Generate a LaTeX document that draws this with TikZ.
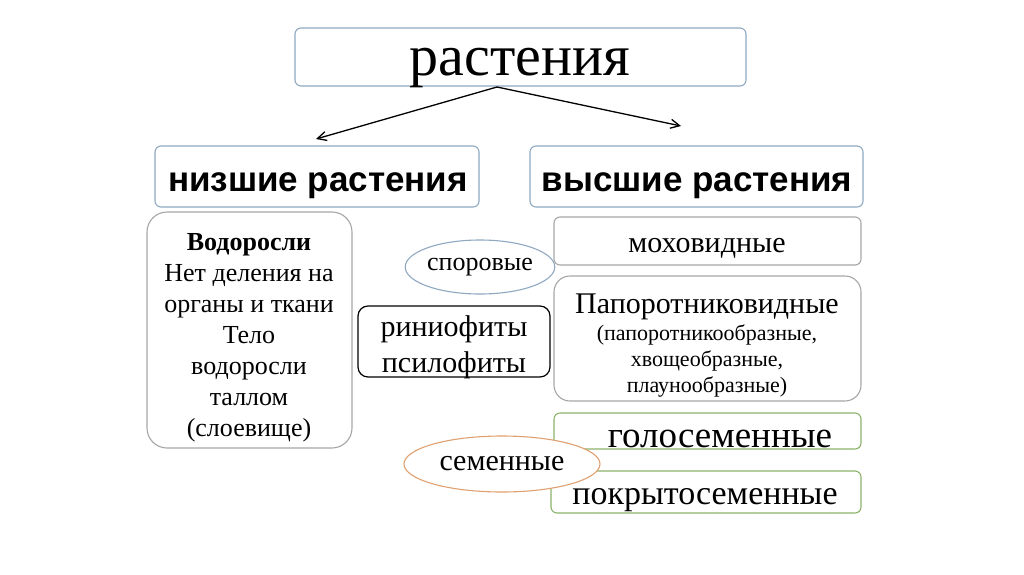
\documentclass[tikz,border=0pt]{standalone}
\usepackage{fontspec}
\setmainfont{Liberation Serif}
\newfontfamily\hsans{Liberation Sans}
\usetikzlibrary{shapes.geometric,arrows.meta}
\definecolor{bluebd}{HTML}{8EA9C1}
\definecolor{graybd}{HTML}{A6A6A6}
\definecolor{greenbd}{HTML}{8DB36B}
\definecolor{orangebd}{HTML}{E0A070}
\begin{document}
\begin{tikzpicture}[x=1pt,y=-1pt,
  bx/.style={draw=#1,line width=1.1pt,rounded corners=6pt,fill=white},
  txt/.style={align=center,inner sep=0pt}]
\useasboundingbox (0,0) rectangle (1024,574);
\fill[white] (0,0) rectangle (1024,574);
\draw[bx=bluebd] (295,28) rectangle (746,86);
\node[txt,font=\fontsize{58}{62}\selectfont] (top) at (520,68) {растения};
\draw[bx=bluebd] (155,146) rectangle (479,207);
\node[txt,font=\hsans\bfseries\fontsize{35}{40}\selectfont] (low) at (318,186) {низшие растения};
\draw[bx=bluebd] (530,146) rectangle (863,207);
\node[txt,font=\hsans\bfseries\fontsize{35}{40}\selectfont] (high) at (697,186) {высшие растения};
\coordinate (src) at (497,87);
\coordinate (la) at (316,139);
\coordinate (ha) at (681,126);
\draw[-{Straight Barb[length=9pt,width=9pt]},line width=1.3pt] (src) -- (la);
\draw[-{Straight Barb[length=9pt,width=9pt]},line width=1.3pt] (src) -- (ha);
\draw[bx=graybd,rounded corners=20pt] (147,212) rectangle (352,448);
\node[txt,font=\fontsize{26}{31}\selectfont] (alg) at (249,338) {\textbf{Водоросли}\\Нет деления на\\органы и ткани\\Тело\\водоросли\\таллом\\(слоевище)};
\draw[bx=graybd] (554,217) rectangle (861,265);
\node[txt,font=\fontsize{30}{34}\selectfont] (moss) at (707,248) {моховидные};
\draw[bx=graybd,rounded corners=16pt] (554,276) rectangle (861,401);
\node[txt,font=\fontsize{22}{26}\selectfont] (fern) at (707,346) {{\fontsize{30}{34}\selectfont Папоротниковидные}\\[1pt](папоротникообразные,\\хвощеобразные,\\плаунообразные)};
\draw[bx=black,line width=1.2pt,rounded corners=10pt] (358,306) rectangle (550,377);
\node[txt,font=\fontsize{30}{36}\selectfont] (rhy) at (454,347) {риниофиты\\псилофиты};
\draw[bx=greenbd] (554,413) rectangle (861,449);
\node[txt,font=\fontsize{37}{40}\selectfont] (gym) at (720,439) {голосеменные};
\draw[bx=greenbd] (551,471) rectangle (861,513);
\node[txt,font=\fontsize{34}{38}\selectfont] (ang) at (705,500) {покрытосеменные};
\node[ellipse,draw=bluebd,line width=1.1pt,fill=white,minimum width=144pt,minimum height=54pt,inner sep=0pt,font=\fontsize{26}{30}\selectfont] (spor) at (480,267) {\raisebox{-4pt}{споровые}};
\node[ellipse,draw=orangebd,line width=1.1pt,fill=white,minimum width=196pt,minimum height=56pt,inner sep=0pt,font=\fontsize{30}{34}\selectfont] (sem) at (502,464) {\raisebox{-4pt}{семенные}};
\end{tikzpicture}
\end{document}
